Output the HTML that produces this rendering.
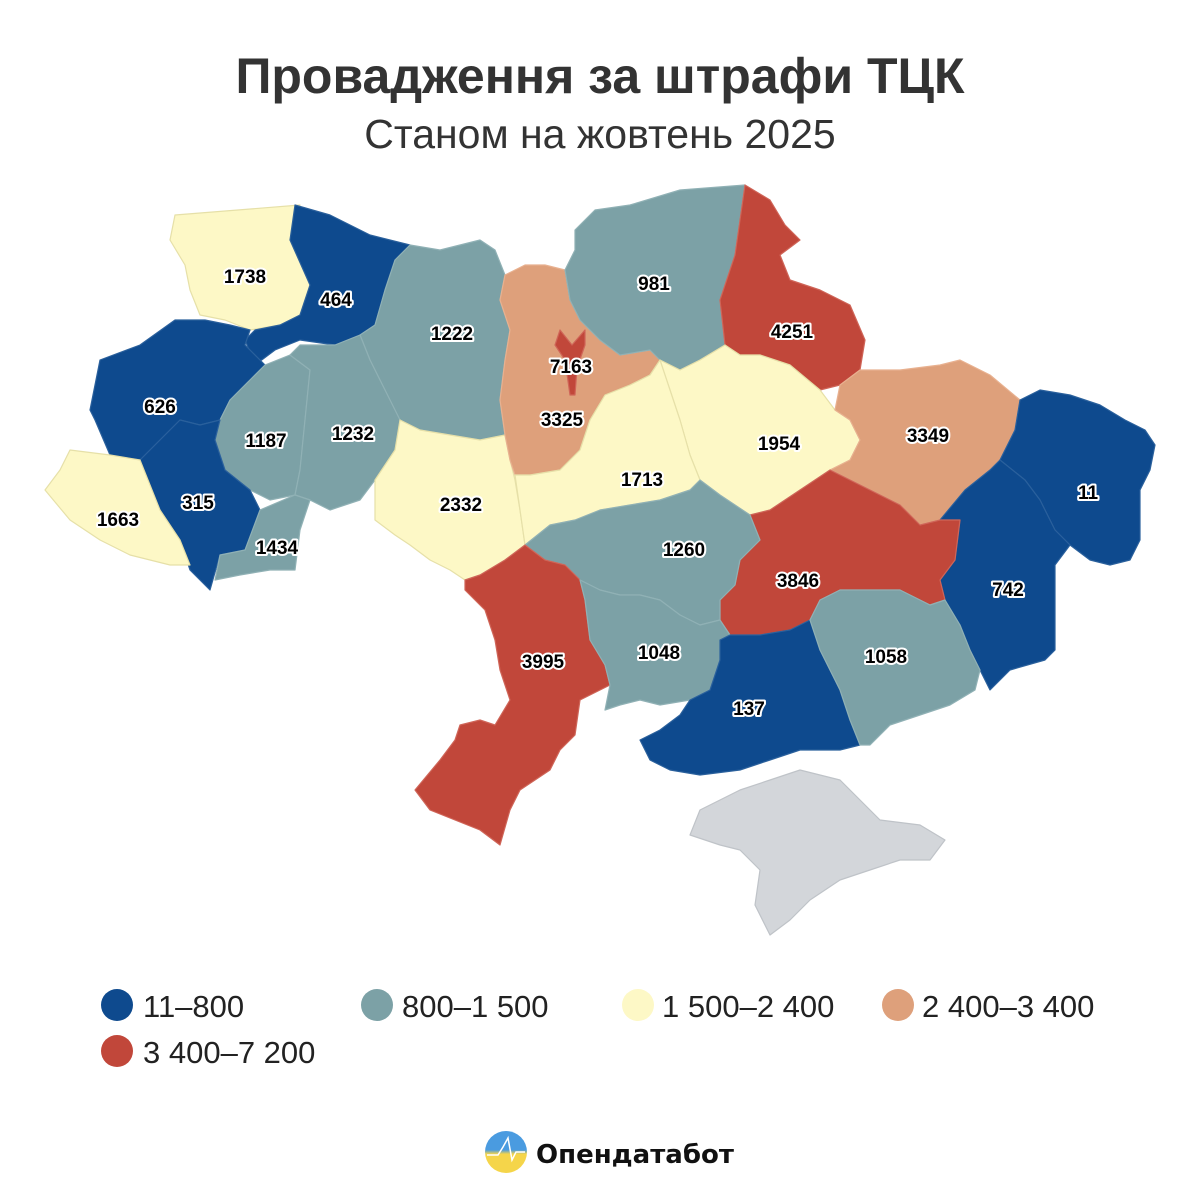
<!DOCTYPE html>
<html><head><meta charset="utf-8"><style>
body{margin:0;background:#fff;}
svg{display:block}
.l{font-family:"Liberation Sans",sans-serif;font-weight:bold;font-size:19px;fill:#000;stroke:#fff;stroke-width:4px;paint-order:stroke;stroke-linejoin:round;text-anchor:middle}
.lg{font-family:"Liberation Sans",sans-serif;font-size:31px;fill:#222}
path,polygon{stroke-width:1.2;stroke-linejoin:round}
.b{fill:#0e4a8e;stroke:#2a609c}.t{fill:#7ca1a6;stroke:#90b1b5}.y{fill:#fdf8c6;stroke:#e6e0a8}.o{fill:#dea07b;stroke:#e8b190}.r{fill:#c1473a;stroke:#cf6558}
</style></head><body>
<svg width="1200" height="1200" viewBox="0 0 1200 1200">
<text x="600" y="93" text-anchor="middle" font-family="Liberation Sans,sans-serif" font-weight="bold" font-size="50" fill="#333">Провадження за штрафи ТЦК</text>
<text x="600" y="148" text-anchor="middle" font-family="Liberation Sans,sans-serif" font-size="41" fill="#333">Станом на жовтень 2025</text>

<polygon class="y" points="175,215 300,205 290,240 310,285 300,315 280,325 250,330 225,320 200,315 190,290 185,265 170,240"/>
<polygon class="b" points="295,205 330,215 370,235 410,245 395,260 385,290 375,325 360,335 335,345 300,340 275,350 255,365 245,340 255,330 280,325 300,315 310,285 290,240"/>
<polygon class="b" points="100,360 140,345 175,320 205,320 230,325 250,330 245,345 265,365 250,380 230,400 220,420 200,425 180,420 160,440 140,460 110,455 95,420 90,410"/>
<polygon class="t" points="410,245 440,250 480,240 495,250 505,275 500,300 510,330 505,360 500,400 505,435 480,440 420,430 400,420 385,390 370,360 360,335 375,325 385,290 395,260"/>
<polygon class="t" points="250,380 265,365 290,355 310,370 305,420 300,470 295,495 270,500 250,490 225,470 215,440 220,420 230,400"/>
<polygon class="t" points="300,345 335,345 360,335 370,360 385,390 400,420 395,450 375,480 360,500 330,510 310,500 295,495 300,470 305,420 310,370 290,355"/>
<polygon class="b" points="140,460 160,440 180,420 200,425 220,420 215,440 225,470 250,490 260,510 255,540 245,550 220,555 210,590 190,570 180,540 160,510"/>
<polygon class="y" points="70,450 110,455 140,460 160,510 180,540 190,565 170,565 130,555 100,540 70,520 45,490 60,470"/>
<polygon class="t" points="220,555 245,550 260,510 295,495 310,500 300,530 295,570 270,570 240,575 215,580"/>
<polygon class="y" points="400,420 420,430 480,440 505,435 510,460 515,480 520,510 525,545 505,560 480,575 465,580 450,570 430,560 410,545 395,535 375,520 375,480 395,450"/>
<polygon class="o" points="505,275 500,300 510,330 505,360 500,400 505,435 510,460 515,475 530,475 560,470 580,450 590,420 605,395 630,385 650,375 660,360 650,350 620,355 600,340 580,320 570,300 565,270 545,265 525,265"/>
<polygon class="r" points="560,330 572,345 585,330 585,345 577,368 575,395 570,395 565,360 555,345"/>
<polygon class="t" points="575,230 595,210 630,205 680,190 745,185 740,220 735,255 720,300 725,345 700,360 680,370 660,360 650,350 620,355 600,340 580,320 570,300 565,270 575,250"/>
<polygon class="r" points="745,185 770,200 785,225 800,240 780,255 790,280 820,290 850,305 865,340 860,370 840,385 820,390 790,365 760,355 740,355 725,345 720,300 735,255 740,220"/>
<polygon class="y" points="660,360 680,370 700,360 725,345 740,355 760,355 790,365 820,390 835,410 850,420 860,440 850,460 830,470 800,490 770,510 750,515 720,495 700,480 690,455 680,420 670,390"/>
<polygon class="y" points="515,475 530,475 560,470 580,450 590,420 605,395 630,385 650,375 660,360 670,390 680,420 690,455 700,480 690,490 660,500 630,505 600,510 575,520 550,525 525,545 520,510"/>
<polygon class="o" points="840,385 860,370 900,370 940,365 960,360 990,375 1020,400 1015,430 1000,460 990,470 965,490 940,520 920,525 900,505 870,490 850,480 830,470 850,460 860,440 850,420 835,410"/>
<polygon class="b" points="1020,400 1040,390 1070,395 1100,405 1125,420 1145,430 1155,445 1150,470 1140,490 1140,515 1140,540 1130,560 1110,565 1090,560 1070,545 1055,530 1040,500 1025,480 1000,460 1015,430"/>
<polygon class="b" points="990,470 1000,460 1025,480 1040,500 1055,530 1070,545 1055,565 1055,600 1055,650 1045,660 1010,670 990,690 980,670 970,650 960,625 945,600 940,580 955,560 960,520 940,520 965,490"/>
<polygon class="r" points="750,515 770,510 800,490 830,470 850,480 870,490 900,505 920,525 940,520 960,520 955,560 940,580 945,600 930,605 900,590 860,590 840,590 820,600 810,620 790,630 760,635 730,635 720,620 720,600 735,585 740,560 760,540"/>
<polygon class="t" points="525,545 550,525 575,520 600,510 630,505 660,500 690,490 700,480 720,495 750,515 760,540 740,560 735,585 720,600 720,620 700,625 680,615 660,600 640,595 620,595 600,590 580,580 565,565 545,560"/>
<polygon class="r" points="465,580 480,575 505,560 525,545 545,560 565,565 580,580 585,600 590,640 605,665 610,685 580,700 575,735 560,750 550,770 520,790 510,810 500,845 480,830 455,820 430,810 415,790 440,760 455,740 460,725 480,720 495,725 510,700 500,670 495,640 485,610 465,590"/>
<polygon class="t" points="580,580 600,590 620,595 640,595 660,600 680,615 700,625 720,620 730,635 720,660 710,690 690,700 660,705 640,700 620,705 605,710 610,685 605,665 590,640 585,600"/>
<polygon class="b" points="720,640 730,635 760,635 790,630 810,620 820,650 840,690 850,720 860,745 840,750 800,750 770,760 740,770 700,775 670,770 650,760 640,740 660,730 680,715 690,700 710,690 720,660"/>
<polygon class="t" points="810,620 820,600 840,590 860,590 900,590 930,605 945,600 960,625 970,650 980,670 975,690 950,705 920,715 890,725 870,745 860,745 850,720 840,690 820,650"/>
<polygon fill="#d3d6da" stroke="#bfc3c8" points="700,810 740,790 770,780 800,770 840,780 860,800 880,820 920,825 945,840 930,860 900,860 870,870 840,880 810,900 790,920 770,935 755,905 760,870 740,850 720,845 690,835"/>

<text class="l" x="245" y="283">1738</text>
<text class="l" x="336" y="306">464</text>
<text class="l" x="160" y="413">626</text>
<text class="l" x="452" y="340">1222</text>
<text class="l" x="266" y="447">1187</text>
<text class="l" x="353" y="440">1232</text>
<text class="l" x="198" y="509">315</text>
<text class="l" x="118" y="526">1663</text>
<text class="l" x="277" y="554">1434</text>
<text class="l" x="461" y="511">2332</text>
<text class="l" x="571" y="373">7163</text>
<text class="l" x="562" y="426">3325</text>
<text class="l" x="654" y="290">981</text>
<text class="l" x="792" y="338">4251</text>
<text class="l" x="779" y="450">1954</text>
<text class="l" x="642" y="486">1713</text>
<text class="l" x="928" y="442">3349</text>
<text class="l" x="1088" y="499">11</text>
<text class="l" x="1008" y="596">742</text>
<text class="l" x="798" y="587">3846</text>
<text class="l" x="684" y="556">1260</text>
<text class="l" x="543" y="668">3995</text>
<text class="l" x="659" y="659">1048</text>
<text class="l" x="886" y="663">1058</text>
<text class="l" x="749" y="715">137</text>

<circle cx="117" cy="1005" r="16" fill="#0e4a8e"/><text class="lg" x="143" y="1017">11–800</text>
<circle cx="377" cy="1005" r="16" fill="#7ca1a6"/><text class="lg" x="402" y="1017">800–1 500</text>
<circle cx="638" cy="1005" r="16" fill="#fdf8c6"/><text class="lg" x="662" y="1017">1 500–2 400</text>
<circle cx="898" cy="1005" r="16" fill="#dea07b"/><text class="lg" x="922" y="1017">2 400–3 400</text>
<circle cx="117" cy="1051" r="16" fill="#c1473a"/><text class="lg" x="143" y="1063">3 400–7 200</text>

<defs><linearGradient id="g" x1="0" y1="0" x2="0" y2="1"><stop offset="0.45" stop-color="#4a9be0"/><stop offset="0.55" stop-color="#f5d54a"/></linearGradient></defs>
<circle cx="506" cy="1152" r="21" fill="url(#g)"/>
<polyline points="487,1155 498,1155 503,1147 508,1138 512,1160 516,1152 525,1152" fill="none" stroke="#fff" stroke-width="1.5"/>
<text x="536" y="1163" font-family="DejaVu Sans,Liberation Sans,sans-serif" font-size="26" font-weight="bold" fill="#111">Опендатабот</text>
</svg>
</body></html>
